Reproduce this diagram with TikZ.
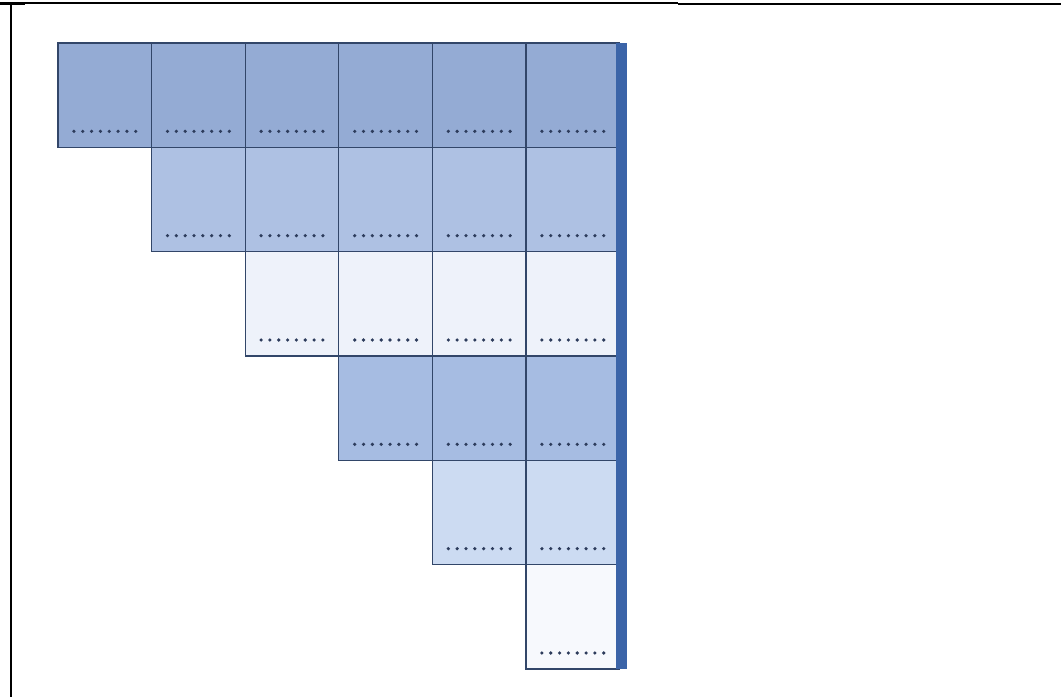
\documentclass[tikz,border=0pt]{standalone}
\usetikzlibrary{positioning}
\definecolor{rowA}{RGB}{148,171,212}
\definecolor{rowB}{RGB}{174,193,227}
\definecolor{rowC}{RGB}{238,242,250}
\definecolor{rowD}{RGB}{166,188,226}
\definecolor{rowE}{RGB}{204,219,242}
\definecolor{rowF}{RGB}{247,249,253}
\definecolor{gridline}{RGB}{50,70,105}
\definecolor{dotcol}{RGB}{45,60,92}
\definecolor{barblue}{RGB}{59,100,168}

\begin{document}
\begin{tikzpicture}[
    x=0.025cm, y=-0.025cm,
    cell/.style={rectangle, draw=gridline, line width=0.9pt, anchor=north west, inner sep=0pt, outer sep=0pt, minimum width=2.34cm, minimum height=2.608cm},
    blank/.style={fill=dotcol},
    frame/.style={draw=black, line width=1.4pt}
]
    \useasboundingbox (0,0) rectangle (1061,697);

    % Rahmen der Tabellenzelle
    \draw[frame, line width=0.9pt] (0,3) -- (678,3);
    \draw[frame] (678,4) -- (1061,4);
    \draw[frame] (0,4) -- (25,4);
    \draw[frame] (11,3) -- (11,697);

    % Treppe aus Feldern
    \foreach \r/\col in {1/rowA, 2/rowB, 3/rowC, 4/rowD, 5/rowE, 6/rowF} {
        \foreach \c in {\r,...,6} {
            \node[cell, fill=\col] (f-\r-\c) at ({58+(\c-1)*93.6}, {43+(\r-1)*104.33}) {};
            \foreach \k in {0,...,7}
                \fill[blank] ([xshift={(-31+\k*8.86)*0.709pt}, yshift=0.4cm]f-\r-\c.south) circle (1.8);
        }
    }

    % Randleiste rechts
    \fill[barblue] (f-1-6.north east) ++(-3.6,0) rectangle (627,669);
\end{tikzpicture}
\end{document}
